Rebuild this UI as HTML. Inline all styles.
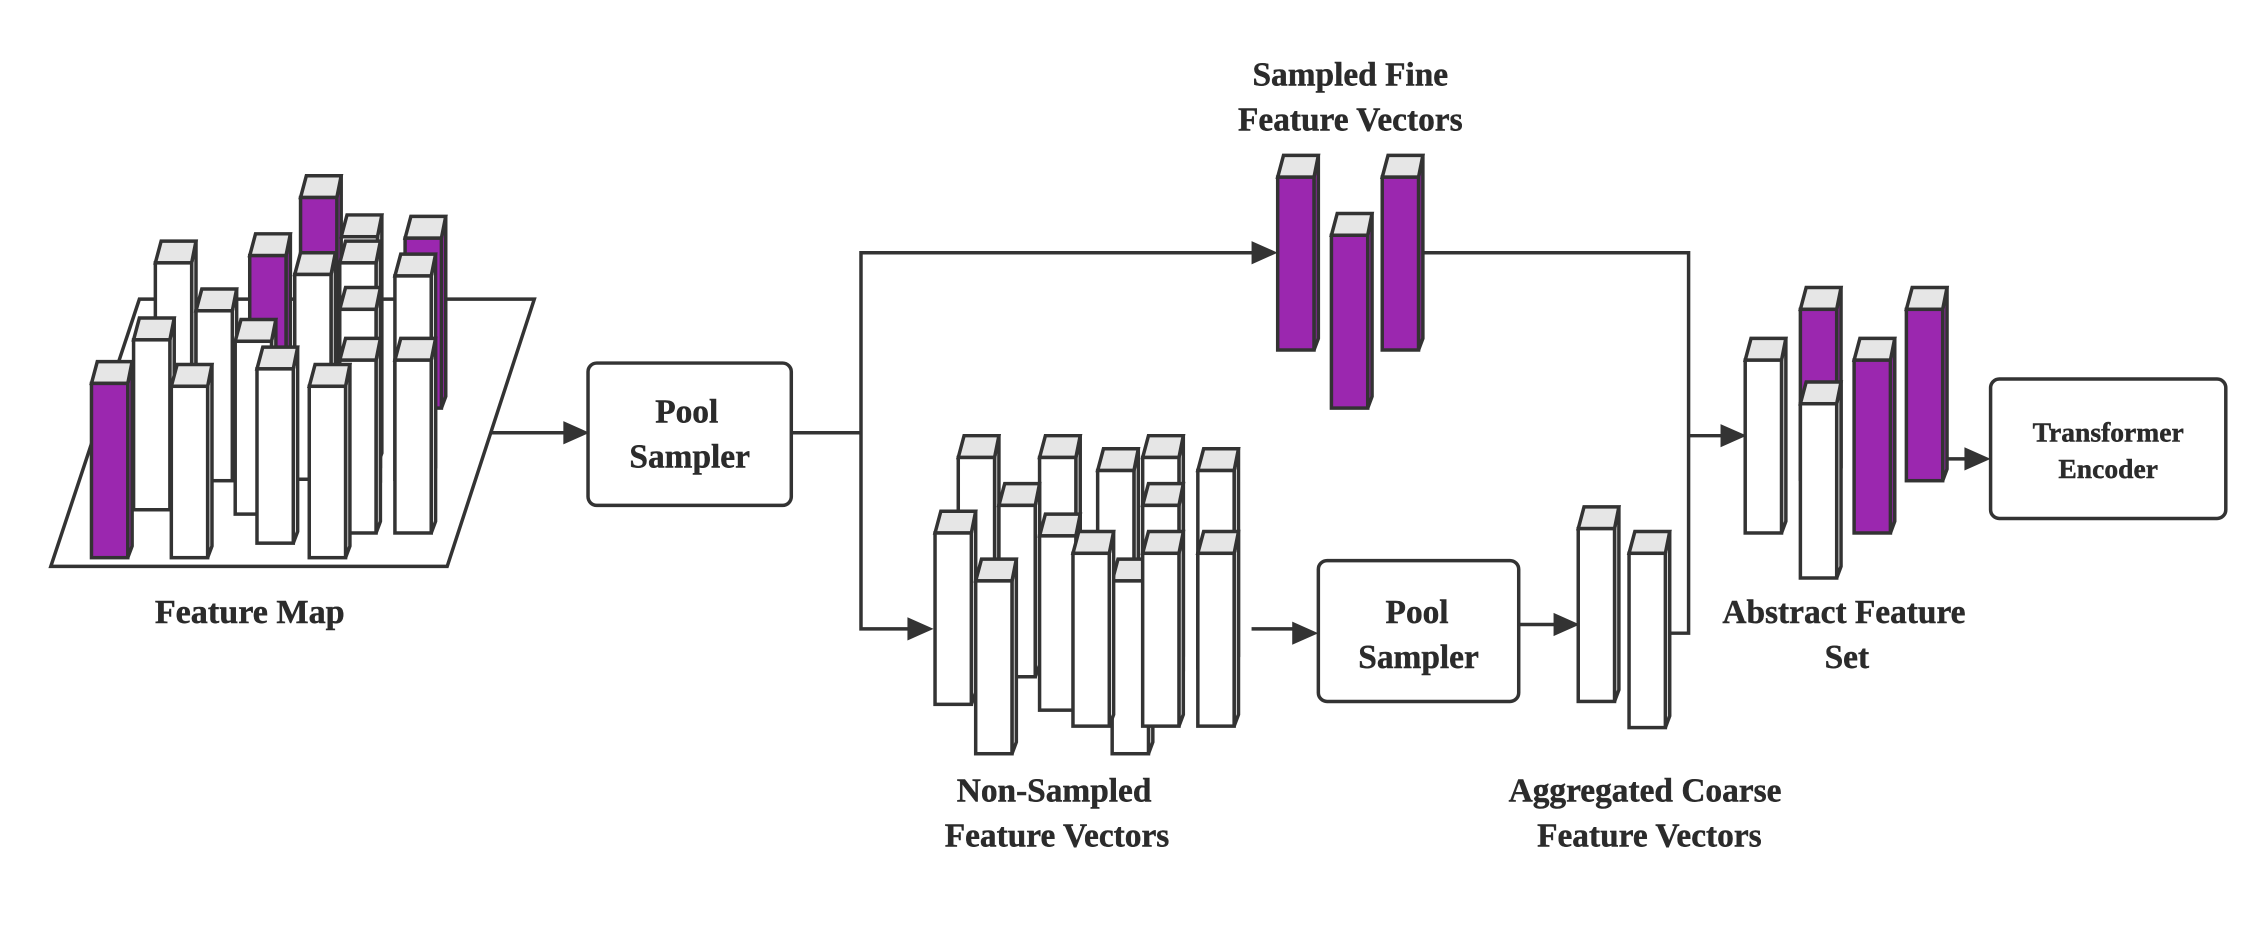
<!DOCTYPE html>
<html><head><meta charset="utf-8"><style>
html,body{margin:0;padding:0;background:#fff}
svg{display:block}
text{font-family:"Liberation Serif",serif;font-weight:bold;fill:#2b2b2b;text-anchor:middle;stroke:#2b2b2b;stroke-width:0.3}
</style></head><body>
<svg id="s" width="2265" height="928" viewBox="0 0 1560 639" preserveAspectRatio="none" xmlns="http://www.w3.org/2000/svg">
<g fill="none" stroke="#333" stroke-width="2.4" stroke-linejoin="miter">
<polygon points="35,390 308,390 368,206 96,206" fill="#fff"/>
</g>
<g id="bars1"></g>
<g fill="none" stroke="#333" stroke-width="2.4">
<line x1="338" y1="298" x2="392" y2="298"/>
<rect x="405" y="250" width="140" height="98" rx="6" fill="#fff"/>
<polyline points="545,298 593,298"/>
<polyline points="866,174 593,174 593,433 628,433"/>
<polyline points="977,174 1163,174 1163,436 1150,436"/>
<line x1="1163" y1="300" x2="1190" y2="300"/>
<line x1="862" y1="433" x2="895" y2="433"/>
<rect x="908" y="386" width="138" height="97" rx="6" fill="#fff"/>
<line x1="1046" y1="430" x2="1075" y2="430"/>
<line x1="1339" y1="316" x2="1358" y2="316"/>
<rect x="1371" y="261" width="162" height="96" rx="6" fill="#fff"/>
</g>
<g fill="#333">
<polygon points="406,298 388,290 388,306"/>
<polygon points="880,174 862,166 862,182"/>
<polygon points="643,433 625,425 625,441"/>
<polygon points="1203,300 1185,292 1185,308"/>
<polygon points="908,436 890,428 890,444"/>
<polygon points="1088,430 1070,422 1070,438"/>
<polygon points="1371,316 1353,308 1353,324"/>
</g>
<g id="bars2"></g>
<text x="172" y="429" font-size="23.5">Feature Map</text>
<text x="473" y="291" font-size="23">Pool</text>
<text x="475" y="322" font-size="23">Sampler</text>
<text x="930" y="59" font-size="23">Sampled Fine</text>
<text x="930" y="90" font-size="23">Feature Vectors</text>
<text x="726" y="552" font-size="23">Non-Sampled</text>
<text x="728" y="583" font-size="23">Feature Vectors</text>
<text x="976" y="429" font-size="23">Pool</text>
<text x="977" y="460" font-size="23">Sampler</text>
<text x="1133" y="552" font-size="23">Aggregated Coarse</text>
<text x="1136" y="583" font-size="23">Feature Vectors</text>
<text x="1270" y="429" font-size="23">Abstract Feature</text>
<text x="1272" y="460" font-size="23">Set</text>
<text x="1452" y="304" font-size="19">Transformer</text>
<text x="1452" y="329" font-size="19">Encoder</text>
</svg>
<script>
var P="#9b27af",W="#fff";
function bars(id,list){
 var g=document.getElementById(id),h="";
 list.forEach(function(a){
  var x=a[0],t=a[1],b=a[2],f=a[3]||W,w=25;
  h+='<polygon points="'+(x+w)+','+t+' '+(x+w+3)+','+(t-15)+' '+(x+w+3)+','+(b-8)+' '+(x+w)+','+b+'" fill="'+f+'" stroke="#333" stroke-width="2.4"/>';
  h+='<polygon points="'+x+','+t+' '+(x+w)+','+t+' '+(x+w+3)+','+(t-15)+' '+(x+4)+','+(t-15)+'" fill="#e6e6e6" stroke="#333" stroke-width="2.4"/>';
  h+='<rect x="'+x+'" y="'+t+'" width="'+w+'" height="'+(b-t)+'" fill="'+f+'" stroke="#333" stroke-width="2.4"/>';
 });
 g.innerHTML=h;
}
bars("bars1",[
 [207,136,300,P],[235,163,320],[279,164,281,P],[107,181,330],[172,176,300,P],
 [135,214,331],[203,189,330],[234,181,330],[234,213,340],[272,190,330],
 [92,234,351],[162,235,354],[234,248,367],[272,248,367],
 [177,254,374],[63,264,384,P],[118,266,384],[213,266,384]
]);
bars("bars2",[
 [880,122,241,P],[917,162,281,P],[952,122,241,P],
 [660,315,460],[716,315,460],[756,324,460],[787,315,460],[825,324,460],
 [688,348,466],[787,348,470],[644,367,485],[716,369,489],[766,400,519],
 [739,381,500],[787,381,500],[825,381,500],[672,400,519],
 [1087,364,483],[1122,381,501],
 [1240,213,330,P],[1202,248,367],[1240,278,398],[1277,248,367,P],[1313,213,331,P]
]);
</script>
</body></html>
